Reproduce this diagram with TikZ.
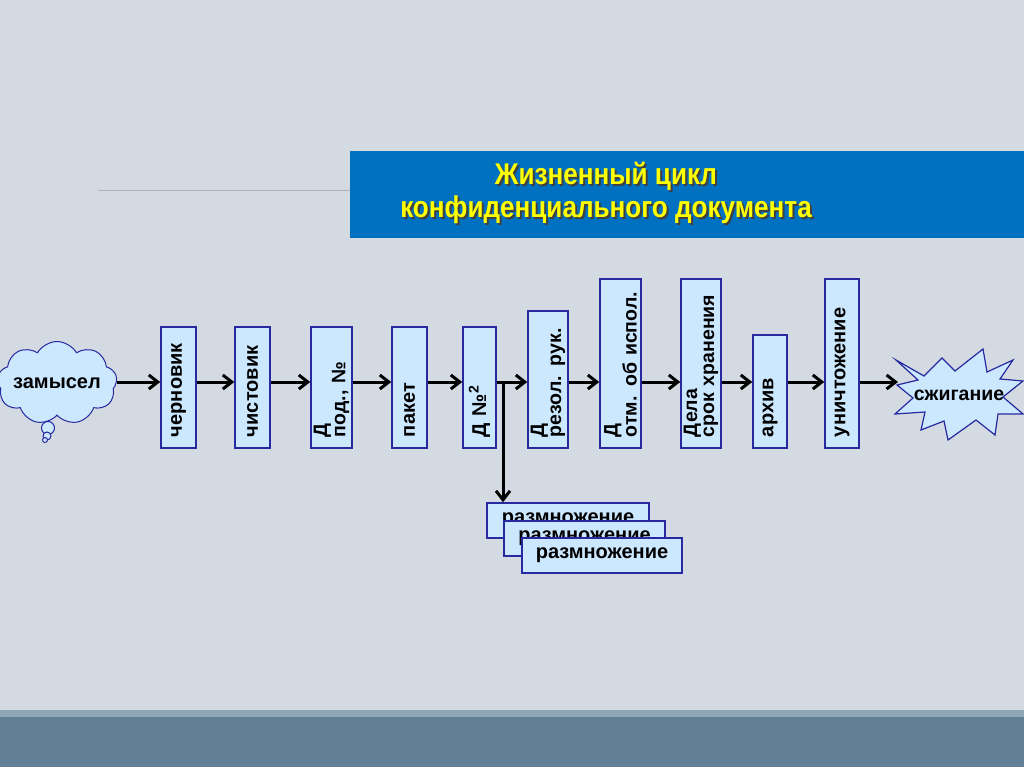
\documentclass[tikz,border=0pt]{standalone}
\usepackage{fontspec}
\setmainfont{Liberation Sans}
\newfontfamily\titlefont[FakeStretch=0.87]{Liberation Sans}
\usetikzlibrary{arrows.meta,shapes.symbols}
\definecolor{bg}{RGB}{211,218,226}
\definecolor{boxfill}{RGB}{204,232,255}
\definecolor{boxdraw}{RGB}{40,40,160}
\definecolor{titleblue}{RGB}{0,112,192}
\definecolor{titleyellow}{RGB}{255,255,0}
\definecolor{band1}{RGB}{143,168,184}
\definecolor{band2}{RGB}{97,127,149}
\newcommand\shtxt[1]{\makebox[0pt][l]{\kern2pt\raisebox{-2pt}{\color{black!75}#1}}#1}
\begin{document}
\begin{tikzpicture}[x=1pt,y=-1pt,
  vbox/.style={draw=boxdraw, fill=boxfill, line width=1.5pt, rotate=90, align=left,
    inner xsep=11pt, inner ysep=0pt, font=\bfseries\fontsize{20}{17}\selectfont},
  vbox2/.style={vbox, font=\bfseries\fontsize{19.5}{17}\selectfont},
  rbox/.style={draw=boxdraw, fill=boxfill, line width=1.5pt, minimum height=35pt,
    inner sep=0pt, font=\bfseries\fontsize{20}{22}\selectfont},
  flow/.style={line width=3pt, -{Straight Barb[length=9pt,width=14pt]}},
  bubble/.style={circle, draw=boxdraw, fill=boxfill, line width=1pt, inner sep=0pt},
  starline/.style={draw=boxdraw, fill=boxfill, line width=1.2pt, line join=miter},
  ttl/.style={anchor=base, text=titleyellow, font=\titlefont\bfseries\fontsize{30}{33}\selectfont},
]
\useasboundingbox (0,0) rectangle (1024,767);
\fill[bg] (0,0) rectangle (1024,767);
\fill[band1] (0,710) rectangle (1024,717);
\fill[band2] (0,717) rectangle (1024,767);

% title
\coordinate (lstart) at (98,191);
\node[fill=titleblue, minimum width=674pt, minimum height=87pt, inner sep=0pt] (tbox) at (687,194.5) {};
\draw[gray!60, line width=1pt] (lstart) -- (lstart -| tbox.west);
\node[ttl] (t1) at (606,185) {\shtxt{Жизненный цикл}};
\node[ttl] (t2) at (606,218) {\shtxt{конфиденциального документа}};

% cloud
\node[cloud, cloud puffs=9, cloud puff arc=120, aspect=1.4, draw=boxdraw, fill=boxfill,
  line width=1pt, inner sep=0pt, minimum width=120pt, minimum height=83pt,
  font=\bfseries\fontsize{20}{22}\selectfont] (cloud) at (57,383) {\makebox[40pt][c]{замысел}};
\node[bubble, minimum size=13pt] (bb1) at (48,428) {};
\node[bubble, minimum size=8pt] (bb2) at (47,436) {};
\node[bubble, minimum size=5pt] (bb3) at (45,440) {};

% boxes
\node[vbox, text width=99pt, minimum height=35pt] (b1) at (178.5,387.5) {черновик};
\node[vbox, text width=99pt, minimum height=35pt] (b2) at (252.5,387.5) {чистовик};
\node[vbox2, text width=99pt, minimum height=41pt] (b3) at (331.5,387.5) {Д\\под., №};
\node[vbox, text width=99pt, minimum height=35pt] (b4) at (409.5,387.5) {пакет};
\node[vbox, text width=99pt, minimum height=33pt] (b5) at (479.5,387.5) {Д №\textsuperscript{2}};
\node[vbox2, text width=115pt, minimum height=40pt] (b6) at (548,379.5) {Д\\резол. рук.};
\node[vbox2, text width=147pt, minimum height=41pt] (b7) at (620.5,363.5) {Д\\отм. об испол.};
\node[vbox2, text width=147pt, minimum height=40pt] (b8) at (701,363.5) {Дела\\срок хранения};
\node[vbox, text width=91pt, minimum height=34pt] (b9) at (770,391.5) {архив};
\node[vbox, text width=147pt, minimum height=34pt] (b10) at (842,363.5) {уничтожение};

% starburst (explosion shape)
\path[starline] (896,360) -- (924,376) -- (942,358) -- (955,371) -- (983,349) -- (987,372)
  -- (1013,360) -- (1000,379) -- (1023,381) -- (1003,397) -- (1023,414) -- (998,414)
  -- (995,435) -- (976,420) -- (948,440) -- (944,421) -- (921,430) -- (925,412)
  -- (895,414) -- (913,398) -- (897,385) -- (918,380) -- cycle;
\node[inner sep=0pt, font=\bfseries\fontsize{19.5}{20}\selectfont] (burn) at (959,395) {сжигание};
\coordinate (burnin) at (898,382);

% copies
\node[rbox, minimum width=162pt] (r1) at (568,520.5) {\raisebox{-2pt}{размножение}};
\node[rbox, minimum width=161pt] (r2) at (584.5,538.5) {\raisebox{-2pt}{размножение}};
\node[rbox, minimum width=160pt] (r3) at (602,555.5) {\raisebox{-2pt}{размножение}};

% arrows
\coordinate (lvl) at (0,382);
\coordinate (br) at (503,382);
\draw[flow] (cloud.east |- lvl) -- (b1.north |- lvl);
\draw[flow] (b1.south |- lvl) -- (b2.north |- lvl);
\draw[flow] (b2.south |- lvl) -- (b3.north |- lvl);
\draw[flow] (b3.south |- lvl) -- (b4.north |- lvl);
\draw[flow] (b4.south |- lvl) -- (b5.north |- lvl);
\draw[flow] (b5.south |- lvl) -- (b6.north |- lvl);
\draw[flow] (b6.south |- lvl) -- (b7.north |- lvl);
\draw[flow] (b7.south |- lvl) -- (b8.north |- lvl);
\draw[flow] (b8.south |- lvl) -- (b9.north |- lvl);
\draw[flow] (b9.south |- lvl) -- (b10.north |- lvl);
\draw[flow] (b10.south |- lvl) -- (burnin);
\draw[flow] (br) -- (br |- r1.north);
\end{tikzpicture}
\end{document}
